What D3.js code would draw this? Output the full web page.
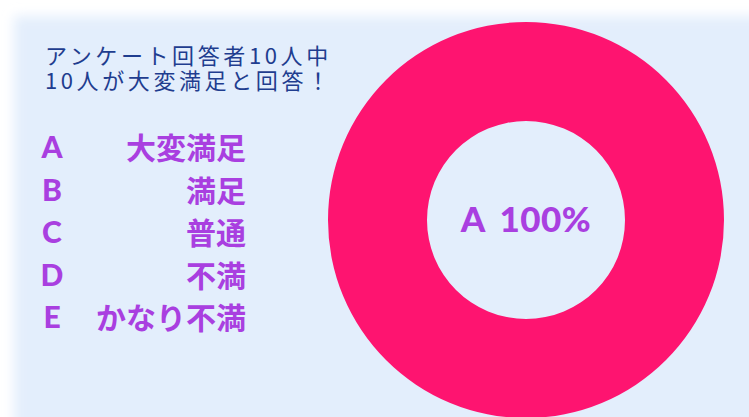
<!DOCTYPE html>
<html><head><meta charset="utf-8">
<script src="https://cdn.jsdelivr.net/npm/d3@7"></script>
<style>
html,body{margin:0;padding:0;background:#ffffff;}
svg{display:block;}
</style></head>
<body>
<svg id="c" width="749" height="417"></svg>
<script>
const titleLines = ["アンケート回答者10人中", "10人が大変満足と回答！"];
const categories = ["A", "B", "C", "D", "E"];
const labels = ["大変満足", "満足", "普通", "不満", "かなり不満"];
const counts = [10, 0, 0, 0, 0];
const centerLabel = "A 100%";

const svg = d3.select("#c");
const defs = svg.append("defs");
const f = defs.append("filter").attr("id","blur").attr("x","-10%").attr("y","-10%").attr("width","120%").attr("height","120%");
f.append("feGaussianBlur").attr("stdDeviation", 6);

svg.append("rect").attr("x",14).attr("y",16).attr("width",760).attr("height",440)
  .attr("fill","#e3eefc").attr("filter","url(#blur)");

// title
const cjk = "'Noto Sans CJK JP','Noto Sans',sans-serif";
svg.append("g").selectAll("text").data(titleLines).join("text")
  .attr("x", 45).attr("y", (d,i)=> 64 + i*25)
  .attr("font-family", cjk).attr("font-size", 22).attr("letter-spacing", 3.6)
  .attr("fill", "#1f3d8f").text(d=>d);

// legend
const rowY = d3.scalePoint().domain(categories).range([158, 328]);
const purple = "#a93fe0";
const lg = svg.append("g");
lg.selectAll("text.k").data(categories).join("text").attr("class","k")
  .attr("x", 52).attr("y", d=>rowY(d)).attr("text-anchor","middle")
  .attr("font-family","Lato, 'Open Sans', sans-serif").attr("font-weight",900)
  .attr("font-size", 30).attr("fill", purple).text(d=>d);
lg.selectAll("text.l").data(labels).join("text").attr("class","l")
  .attr("x", 246).attr("y", (d,i)=>rowY(categories[i]) + 1).attr("text-anchor","end")
  .attr("font-family", cjk).attr("font-weight",700)
  .attr("font-size", 30).attr("fill", purple).text(d=>d);

// donut
const cx = 526, cy = 220;
const pie = d3.pie().sort(null).value(d=>d);
const arc = d3.arc().innerRadius(99).outerRadius(198);
const colors = d3.scaleOrdinal().domain(categories).range(["#fe1470","#ff8a3d","#ffd23f","#3ec1d3","#7a5cff"]);
const g = svg.append("g").attr("transform",`translate(${cx},${cy})`);
g.selectAll("path").data(pie(counts)).join("path")
  .attr("d", arc).attr("fill", (d,i)=>colors(categories[i]));
g.append("text").attr("text-anchor","middle").attr("y", 12)
  .attr("font-family","Lato, 'Open Sans', sans-serif").attr("font-weight",900)
  .attr("font-size", 35).attr("letter-spacing", 0.5).attr("word-spacing", 6)
  .attr("fill", purple).text(centerLabel);
</script>
</body></html>
